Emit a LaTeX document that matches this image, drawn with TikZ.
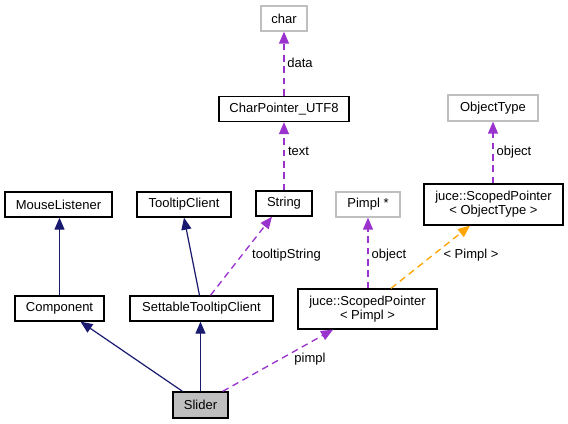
\documentclass[tikz,border=0pt]{standalone}
\usepackage{fontspec}
\setmainfont{Liberation Sans}
\usetikzlibrary{arrows.meta, calc}

\definecolor{edgenavy}{RGB}{25,25,112}
\definecolor{edgepurple}{RGB}{154,50,205}
\definecolor{edgeorange}{RGB}{255,165,0}
\definecolor{boxgray}{RGB}{191,191,191}

\begin{document}
\begin{tikzpicture}[x=0.75pt, y=-0.75pt,
        font=\fontsize{9.75}{10.5}\selectfont,
        box/.style={draw=black, line width=1pt, fill=white, inner sep=0pt,
                    minimum height=18.75pt, align=center},
        extbox/.style={box, draw=boxgray},
        inherit/.style={draw=edgenavy, line width=0.9pt,
                        -{Triangle[length=9pt, width=7.5pt]}},
        usage/.style={draw=edgepurple, line width=1pt, dash pattern=on 5pt off 3.5pt,
                      -{Triangle[length=9pt, width=7.5pt]}},
        templ/.style={usage, draw=edgeorange},
        lbl/.style={inner sep=0pt}]
    \useasboundingbox (0,0) rectangle (568,424);

    % classes
    \node[extbox, minimum width=34.5pt] (chr) at (284,18.5) {char};
    \node[box, minimum width=97.5pt] (charptr) at (284,109) {CharPointer\_UTF8};
    \node[box, minimum width=42pt] (string) at (284,203.5) {String};
    \node[box, minimum width=80.25pt] (mouse) at (58.5,204.5) {MouseListener};
    \node[box, minimum width=70.5pt] (tooltip) at (184,204.5) {TooltipClient};
    \node[box, minimum width=66.75pt] (component) at (59.5,308.5) {Component};
    \node[box, minimum width=107.25pt] (settable) at (201.5,308.5) {SettableTooltipClient};
    \node[box, fill=boxgray, minimum width=41.25pt, minimum height=19.5pt] (slider) at (200.5,405) {Slider};
    \node[extbox, minimum width=48pt] (pimpl) at (368,204.5) {Pimpl *};
    \node[extbox, minimum width=67.5pt, minimum height=19.5pt] (objtype) at (493,108) {ObjectType};
    \node[box, minimum width=104.25pt, minimum height=30.75pt] (spobj) at (493.5,204.5)
        {juce::ScopedPointer\\< ObjectType >};
    \node[box, minimum width=104.25pt, minimum height=30pt] (sppimpl) at (367.5,309)
        {juce::ScopedPointer\\< Pimpl >};

    % inheritance
    \draw[inherit] (component) -- (component.north |- mouse.south);
    \draw[inherit] ($(slider.north)+(-18,0)$) -- ($(component.south)+(21,0)$);
    \draw[inherit] (slider) -- (slider.north |- settable.south);
    \draw[inherit] ($(settable.north)+(-2,0)$) -- (tooltip.south);

    % members
    \draw[usage] ($(settable.north)+(9,0)$) -- ($(string.south)+(-12,0)$);
    \draw[usage] (string) -- (charptr);
    \draw[usage] (charptr) -- (chr);
    \draw[usage] ($(slider.north east)+(-6,0)$) -- ($(sppimpl.south)+(-34.5,0)$);
    \draw[usage] (pimpl.south |- sppimpl.north) -- (pimpl);
    \draw[templ] ($(sppimpl.north)+(23.5,0)$) -- ($(spobj.south)+(-23.5,0)$);
    \draw[usage] (objtype.south |- spobj.north) -- (objtype);

    % edge labels
    \node[lbl] (l-tip) at (286.5,255) {tooltipString};
    \node[lbl] (l-text) at (298.5,151.5) {text};
    \node[lbl] (l-data) at (300,62.5) {data};
    \node[lbl] (l-pimpl) at (310,359) {pimpl};
    \node[lbl] (l-obj1) at (389,255) {object};
    \node[lbl] (l-tpl) at (471,255) {< Pimpl >};
    \node[lbl] (l-obj2) at (514,152) {object};
\end{tikzpicture}
\end{document}
